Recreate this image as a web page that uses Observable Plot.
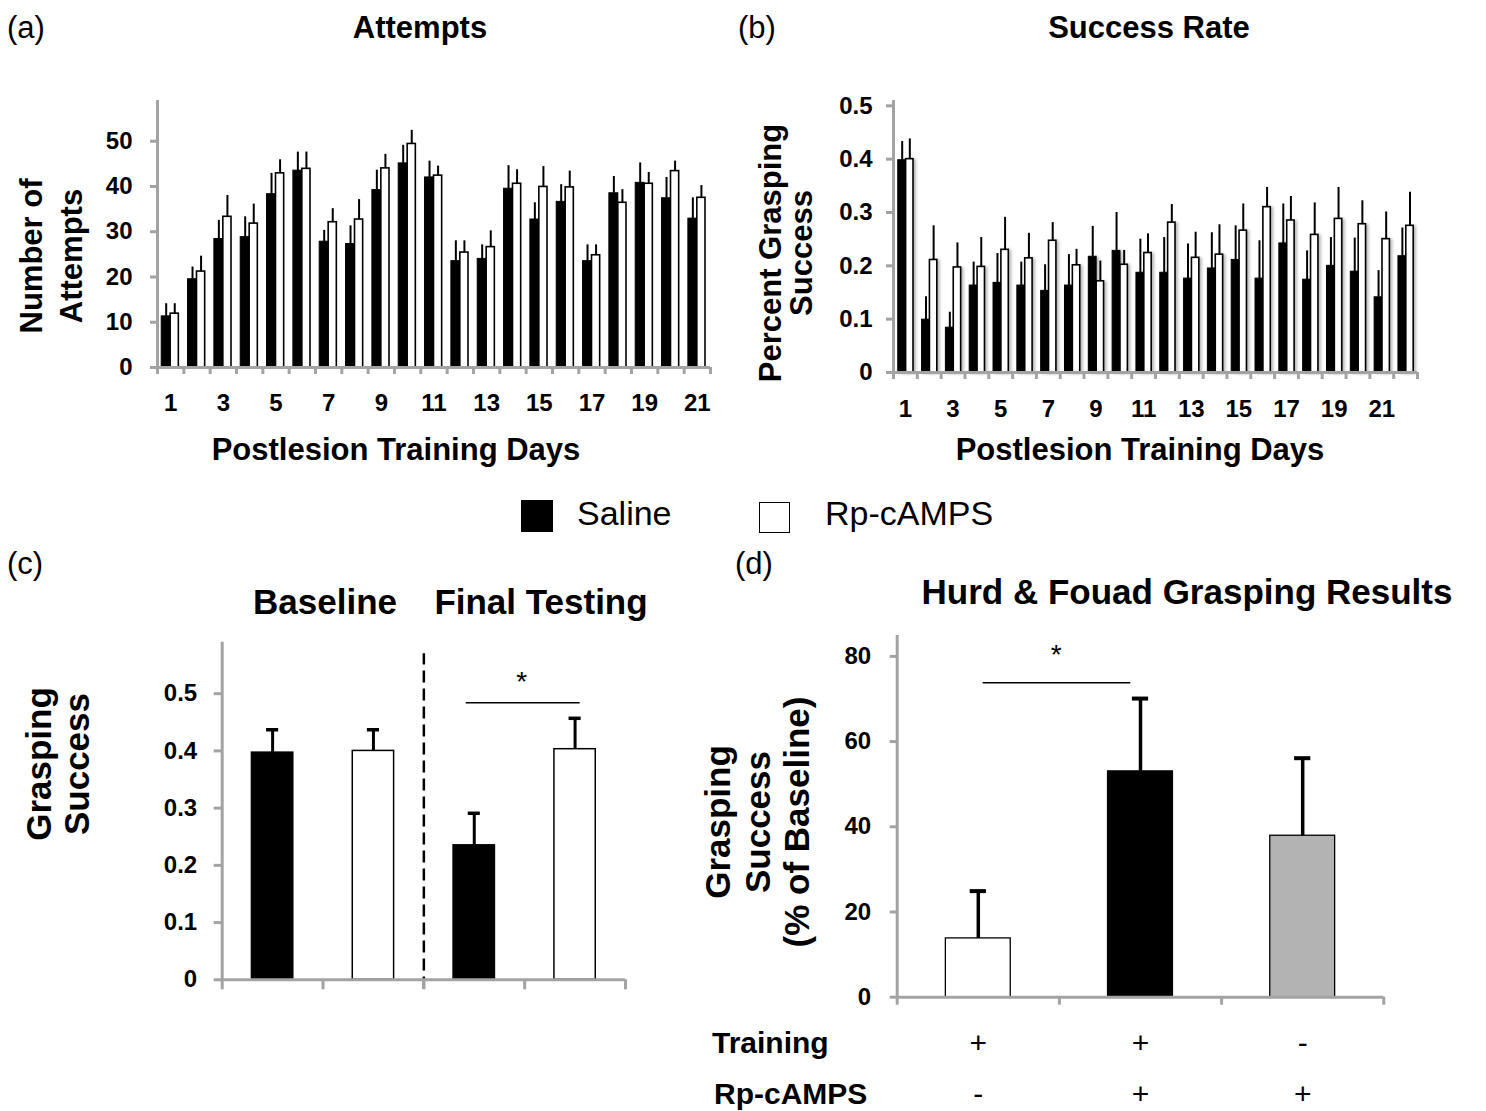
<!DOCTYPE html>
<html><head><meta charset="utf-8">
<script src="https://cdn.jsdelivr.net/npm/d3@7"></script>
<script src="https://cdn.jsdelivr.net/npm/@observablehq/plot@0.6"></script>
<style>
body{margin:0;background:#fff;}
#root{position:relative;width:1486px;height:1111px;overflow:hidden;font-family:"Liberation Sans",Arial,sans-serif;color:#000;background:#fff;}
.t{position:absolute;white-space:nowrap;line-height:1;}
.p{position:absolute;}
</style></head><body><div id="root"></div>
<script>
// ---------- DATA ----------
// (a) Attempts, postlesion days 1-21
const daysA = [1,2,3,4,5,6,7,8,9,10,11,12,13,14,15,16,17,18,19,20,21];
const attemptsSaline    = [11.3,19.5,28.4,28.8,38.3,43.5,27.8,27.3,39.2,45.1,42.0,23.5,24.0,39.5,32.7,36.6,23.5,38.5,40.8,37.4,32.9];
const attemptsSalineErr = [2.8,2.7,4.1,4.5,4.6,4.1,2.5,4.0,4.4,4.0,3.6,4.5,3.1,5.1,3.7,3.8,3.6,3.7,4.4,4.6,4.6];
const attemptsRp        = [11.9,21.2,33.3,31.8,42.9,43.9,32.1,32.7,44.0,49.4,42.4,25.4,26.6,40.6,39.9,39.8,24.8,36.4,40.6,43.4,37.5];
const attemptsRpErr     = [2.2,3.4,4.7,4.3,3.0,3.7,3.0,4.4,3.1,3.0,2.1,2.6,3.6,3.1,4.5,3.6,2.3,2.9,2.5,2.2,2.7];
const attemptsYTicks = [0,10,20,30,40,50];

// (b) Success rate, days 1-22
const daysB = [1,2,3,4,5,6,7,8,9,10,11,12,13,14,15,16,17,18,19,20,21,22];
const successSaline    = [0.398,0.099,0.084,0.163,0.168,0.163,0.153,0.163,0.217,0.228,0.187,0.187,0.176,0.195,0.211,0.176,0.242,0.174,0.200,0.189,0.141,0.218];
const successSalineErr = [0.035,0.043,0.029,0.044,0.055,0.044,0.049,0.058,0.057,0.072,0.063,0.066,0.065,0.067,0.064,0.071,0.074,0.054,0.053,0.063,0.050,0.053];
const successRp        = [0.400,0.211,0.197,0.198,0.230,0.214,0.247,0.201,0.171,0.202,0.224,0.281,0.215,0.221,0.266,0.310,0.285,0.258,0.288,0.278,0.250,0.275];
const successRpErr     = [0.038,0.064,0.046,0.055,0.061,0.047,0.034,0.030,0.038,0.027,0.036,0.034,0.048,0.056,0.050,0.037,0.045,0.060,0.059,0.044,0.051,0.063];
const successYTicks = [0,0.1,0.2,0.3,0.4,0.5];
const dayLabels = [1,3,5,7,9,11,13,15,17,19,21];

// (c) Baseline vs final testing
const groupsC = ["Baseline Saline","Baseline Rp-cAMPS","Final Saline","Final Rp-cAMPS"];
const treatmentC = ["Saline","Rp-cAMPS","Saline","Rp-cAMPS"];
const valuesC = [0.397,0.400,0.235,0.403];
const errC    = [0.040,0.037,0.056,0.054];
const yTicksC = [0,0.1,0.2,0.3,0.4,0.5];

// (d) Hurd & Fouad
const groupsD   = ["Training+ Rp-", "Training+ Rp+", "Training- Rp+"];
const valuesD   = [13.8,53.0,37.9];
const errD      = [11.1,17.1,18.2];
const fillD     = ["#ffffff","#000000","#b3b3b3"];
const trainingSigns = ["+","+","-"];
const rpSigns       = ["-","+","+"];
const yTicksD = [0,20,40,60,80];

// ---------- HELPERS ----------
const root = document.getElementById("root");
const GRAY = "#a3a3a3";
const FONT = "Liberation Sans, Arial, sans-serif";

function addText(html, x, y, {size=31, weight="bold", anchor="middle", rotate=0, lh=1, align="center"}={}) {
  const el = document.createElement("div");
  el.className = "t";
  el.innerHTML = html;
  el.style.fontSize = size + "px";
  el.style.fontWeight = weight;
  el.style.lineHeight = lh;
  el.style.textAlign = align;
  el.style.left = x + "px";
  el.style.top = y + "px";
  const tx = anchor === "middle" ? "-50%" : anchor === "start" ? "0" : "-100%";
  el.style.transform = `translate(${tx},-50%)` + (rotate ? ` rotate(${rotate}deg)` : "");
  root.appendChild(el);
  return el;
}
function place(svg, left, top) {
  const wrap = document.createElement("div");
  wrap.className = "p";
  wrap.style.left = left + "px";
  wrap.style.top = top + "px";
  wrap.appendChild(svg);
  root.appendChild(wrap);
}
const baseStyle = {background: "transparent", fontFamily: FONT, overflow: "visible"};
const fmt1 = d => d === 0 ? "0" : d.toFixed(1);

// ---------- PANEL A ----------
const rowsA = daysA.map((d, i) => ({day: d, s: attemptsSaline[i], se: attemptsSalineErr[i], r: attemptsRp[i], re: attemptsRpErr[i]}));
const plotA = Plot.plot({
  width: 630, height: 327, marginLeft: 57, marginRight: 20, marginTop: 10, marginBottom: 50,
  style: baseStyle,
  x: {type: "linear", domain: [0.5, 21.5], axis: null},
  y: {domain: [0, 59], axis: null},
  marks: [
    Plot.rect(rowsA, {x1: d => d.day - 0.34, x2: d => d.day, y1: d => 0, y2: "s", fill: "black", stroke: "black", strokeWidth: 1}),
    Plot.rect(rowsA, {x1: d => d.day, x2: d => d.day + 0.31, y1: d => 0, y2: "r", fill: "white", stroke: "black", strokeWidth: 1.6}),
    Plot.ruleX(rowsA, {x: d => d.day - 0.17, y1: "s", y2: d => d.s + d.se, stroke: "black", strokeWidth: 2}),
    Plot.ruleX(rowsA, {x: d => d.day + 0.155, y1: "r", y2: d => d.r + d.re, stroke: "black", strokeWidth: 2}),
    Plot.ruleX([0.5], {stroke: GRAY, strokeWidth: 3}),
    Plot.ruleY([0], {stroke: GRAY, strokeWidth: 3}),
    Plot.axisY({ticks: attemptsYTicks, tickSize: 7, tickPadding: 18, stroke: GRAY, strokeWidth: 3, fill: "black", fontSize: 24, fontWeight: "bold", label: null}),
    Plot.axisX({ticks: d3.range(0.5, 22, 1), tickSize: 7, stroke: GRAY, strokeWidth: 3, tickFormat: () => "", label: null}),
    Plot.axisX({ticks: dayLabels, tickSize: 0, tickPadding: 26, fill: "black", fontSize: 24, fontWeight: "bold", label: null})
  ]
});
place(plotA, 100, 90);

// ---------- PANEL B ----------
const rowsB = daysB.map((d, i) => ({day: d, s: successSaline[i], se: successSalineErr[i], r: successRp[i], re: successRpErr[i]}));
const plotB = Plot.plot({
  width: 597, height: 332, marginLeft: 53, marginRight: 20, marginTop: 10, marginBottom: 50,
  style: baseStyle,
  x: {type: "linear", domain: [0.5, 22.5], axis: null},
  y: {domain: [0, 0.51], axis: null},
  marks: [
    Plot.rect(rowsB, {x1: d => d.day - 0.3, x2: d => d.day + 0.03, y1: d => 0, y2: "s", fill: "black", stroke: "black", strokeWidth: 1}),
    Plot.rect(rowsB, {x1: d => d.day + 0.03, x2: d => d.day + 0.34, y1: d => 0, y2: "r", fill: "white", stroke: "black", strokeWidth: 1.6}),
    Plot.ruleX(rowsB, {x: d => d.day - 0.135, y1: "s", y2: d => d.s + d.se, stroke: "black", strokeWidth: 2}),
    Plot.ruleX(rowsB, {x: d => d.day + 0.185, y1: "r", y2: d => d.r + d.re, stroke: "black", strokeWidth: 2}),
    Plot.ruleX([0.5], {stroke: GRAY, strokeWidth: 3}),
    Plot.ruleY([0], {stroke: GRAY, strokeWidth: 3}),
    Plot.axisY({ticks: successYTicks, tickSize: 7, tickPadding: 14, stroke: GRAY, strokeWidth: 3, fill: "black", fontSize: 24, fontWeight: "bold", tickFormat: fmt1, label: null}),
    Plot.axisX({ticks: d3.range(0.5, 23, 1), tickSize: 7, stroke: GRAY, strokeWidth: 3, tickFormat: () => "", label: null}),
    Plot.axisX({ticks: dayLabels, tickSize: 0, tickPadding: 27, fill: "black", fontSize: 24, fontWeight: "bold", label: null})
  ]
});
plotB.querySelectorAll('g[aria-label="rect"]').forEach(g => g.style.filter = "drop-shadow(2px 1px 1.5px rgba(0,0,0,0.3))");
place(plotB, 840, 90);

// ---------- PANEL C ----------
const rowsC = groupsC.map((g, i) => ({i: i + 1, group: g, treat: treatmentC[i], v: valuesC[i], e: errC[i]}));
const plotC = Plot.plot({
  width: 480, height: 370, marginLeft: 61.7, marginRight: 15, marginTop: 11.7, marginBottom: 20.7,
  style: baseStyle,
  x: {type: "linear", domain: [0.5, 4.5], axis: null},
  y: {domain: [0, 0.59], axis: null},
  marks: [
    Plot.rect(rowsC, {x1: d => d.i - 0.205, x2: d => d.i + 0.205, y1: d => 0, y2: "v",
      fill: d => d.treat === "Saline" ? "black" : "white", stroke: "black", strokeWidth: 1.5}),
    Plot.ruleX(rowsC, {x: "i", y1: "v", y2: d => d.v + d.e, stroke: "black", strokeWidth: 3}),
    Plot.ruleY(rowsC, {x1: d => d.i - 0.06, x2: d => d.i + 0.06, y: d => d.v + d.e, stroke: "black", strokeWidth: 3.5}),
    Plot.ruleX([2.5], {y1: -0.016, y2: 0.57, stroke: "black", strokeWidth: 2.5, strokeDasharray: "12,6"}),
    Plot.ruleY([0.484], {x1: 2.92, x2: 4.05, stroke: "black", strokeWidth: 1.5}),
    Plot.text(["*"], {x: 3.47, y: 0.52, text: d => d, fontSize: 28, lineAnchor: "middle", fill: "black"}),
    Plot.ruleX([0.5], {stroke: GRAY, strokeWidth: 3}),
    Plot.ruleY([0], {stroke: GRAY, strokeWidth: 3}),
    Plot.axisY({ticks: yTicksC, tickSize: 8, tickPadding: 17, stroke: GRAY, strokeWidth: 3, fill: "black", fontSize: 24, fontWeight: "bold", tickFormat: fmt1, label: null}),
    Plot.axisX({ticks: [0.5, 1.5, 2.5, 3.5, 4.5], tickSize: 10, stroke: GRAY, strokeWidth: 3, tickFormat: () => "", label: null})
  ]
});
place(plotC, 160, 630);

// ---------- PANEL D ----------
const rowsD = groupsD.map((g, i) => ({i: i + 1, group: g, v: valuesD[i], e: errD[i], fill: fillD[i], tr: trainingSigns[i], rp: rpSigns[i]}));
const plotD = Plot.plot({
  width: 563.3, height: 491, marginLeft: 56.7, marginRight: 20, marginTop: 15, marginBottom: 114.3,
  style: baseStyle,
  x: {type: "linear", domain: [0.5, 3.5], axis: null},
  y: {domain: [0, 84.9], axis: null},
  marks: [
    Plot.rect(rowsD, {x1: d => d.i - 0.2, x2: d => d.i + 0.2, y1: d => 0, y2: "v", fill: d => d.fill, stroke: "black", strokeWidth: 1.3}),
    Plot.ruleX(rowsD, {x: "i", y1: "v", y2: d => d.v + d.e, stroke: "black", strokeWidth: 3.5}),
    Plot.ruleY(rowsD, {x1: d => d.i - 0.05, x2: d => d.i + 0.05, y: d => d.v + d.e, stroke: "black", strokeWidth: 4}),
    Plot.ruleY([73.8], {x1: 1.03, x2: 1.94, stroke: "black", strokeWidth: 1.5}),
    Plot.text(["*"], {x: 1.48, y: 80.2, text: d => d, fontSize: 28, lineAnchor: "middle", fill: "black"}),
    Plot.ruleX([0.5], {stroke: GRAY, strokeWidth: 3}),
    Plot.ruleY([0], {stroke: GRAY, strokeWidth: 3}),
    Plot.axisY({ticks: yTicksD, tickSize: 7, tickPadding: 19, stroke: GRAY, strokeWidth: 3, fill: "black", fontSize: 24, fontWeight: "bold", label: null}),
    Plot.axisX({ticks: [0.5, 1.5, 2.5, 3.5], tickSize: 8, stroke: GRAY, strokeWidth: 3, tickFormat: () => "", label: null}),
    Plot.text(rowsD, {x: "i", y: d => -10.9, text: "tr", fontSize: 30, lineAnchor: "middle", fill: "black"}),
    Plot.text(rowsD, {x: "i", y: d => -22.8, text: "rp", fontSize: 30, lineAnchor: "middle", fill: "black"})
  ]
});
place(plotD, 840, 620);

// ---------- TEXT ----------
addText("(a)", 7, 27, {size: 31, weight: "normal", anchor: "start"});
addText("Attempts", 420, 27, {size: 31});
addText("(b)", 738, 27, {size: 31, weight: "normal", anchor: "start"});
addText("Success Rate", 1149, 27, {size: 31});
addText("Number of<br>Attempts", 52, 256, {size: 31, rotate: -90, lh: 1.28});
addText("Percent Grasping<br>Success", 786, 253, {size: 31, rotate: -90, lh: 1.0});
addText("Postlesion Training Days", 396, 449, {size: 31});
addText("Postlesion Training Days", 1140, 449, {size: 31});

// legend
const sq1 = document.createElement("div");
Object.assign(sq1.style, {position: "absolute", left: "521px", top: "500px", width: "32px", height: "32px", background: "#000"});
root.appendChild(sq1);
const sq2 = document.createElement("div");
Object.assign(sq2.style, {position: "absolute", left: "759px", top: "502px", width: "29px", height: "29px", background: "#fff", border: "1.5px solid #000"});
root.appendChild(sq2);
addText("Saline", 577, 513, {size: 34, weight: "normal", anchor: "start"});
addText("Rp-cAMPS", 825, 513, {size: 34, weight: "normal", anchor: "start"});

addText("(c)", 7, 563, {size: 31, weight: "normal", anchor: "start"});
addText("(d)", 735, 563, {size: 31, weight: "normal", anchor: "start"});
addText("Baseline", 325, 601, {size: 35});
addText("Final Testing", 541, 601, {size: 35});
addText("Grasping<br>Success", 58, 764, {size: 35, rotate: -90, lh: 1.08});
addText("Hurd &amp; Fouad Grasping Results", 1187, 591, {size: 35});
addText("Grasping<br>Success<br>(% of Baseline)", 757, 822, {size: 35, rotate: -90, lh: 1.13});
addText("Training", 712, 1043, {size: 30, anchor: "start"});
addText("Rp-cAMPS", 714, 1094, {size: 30, anchor: "start"});
</script>
</body></html>
